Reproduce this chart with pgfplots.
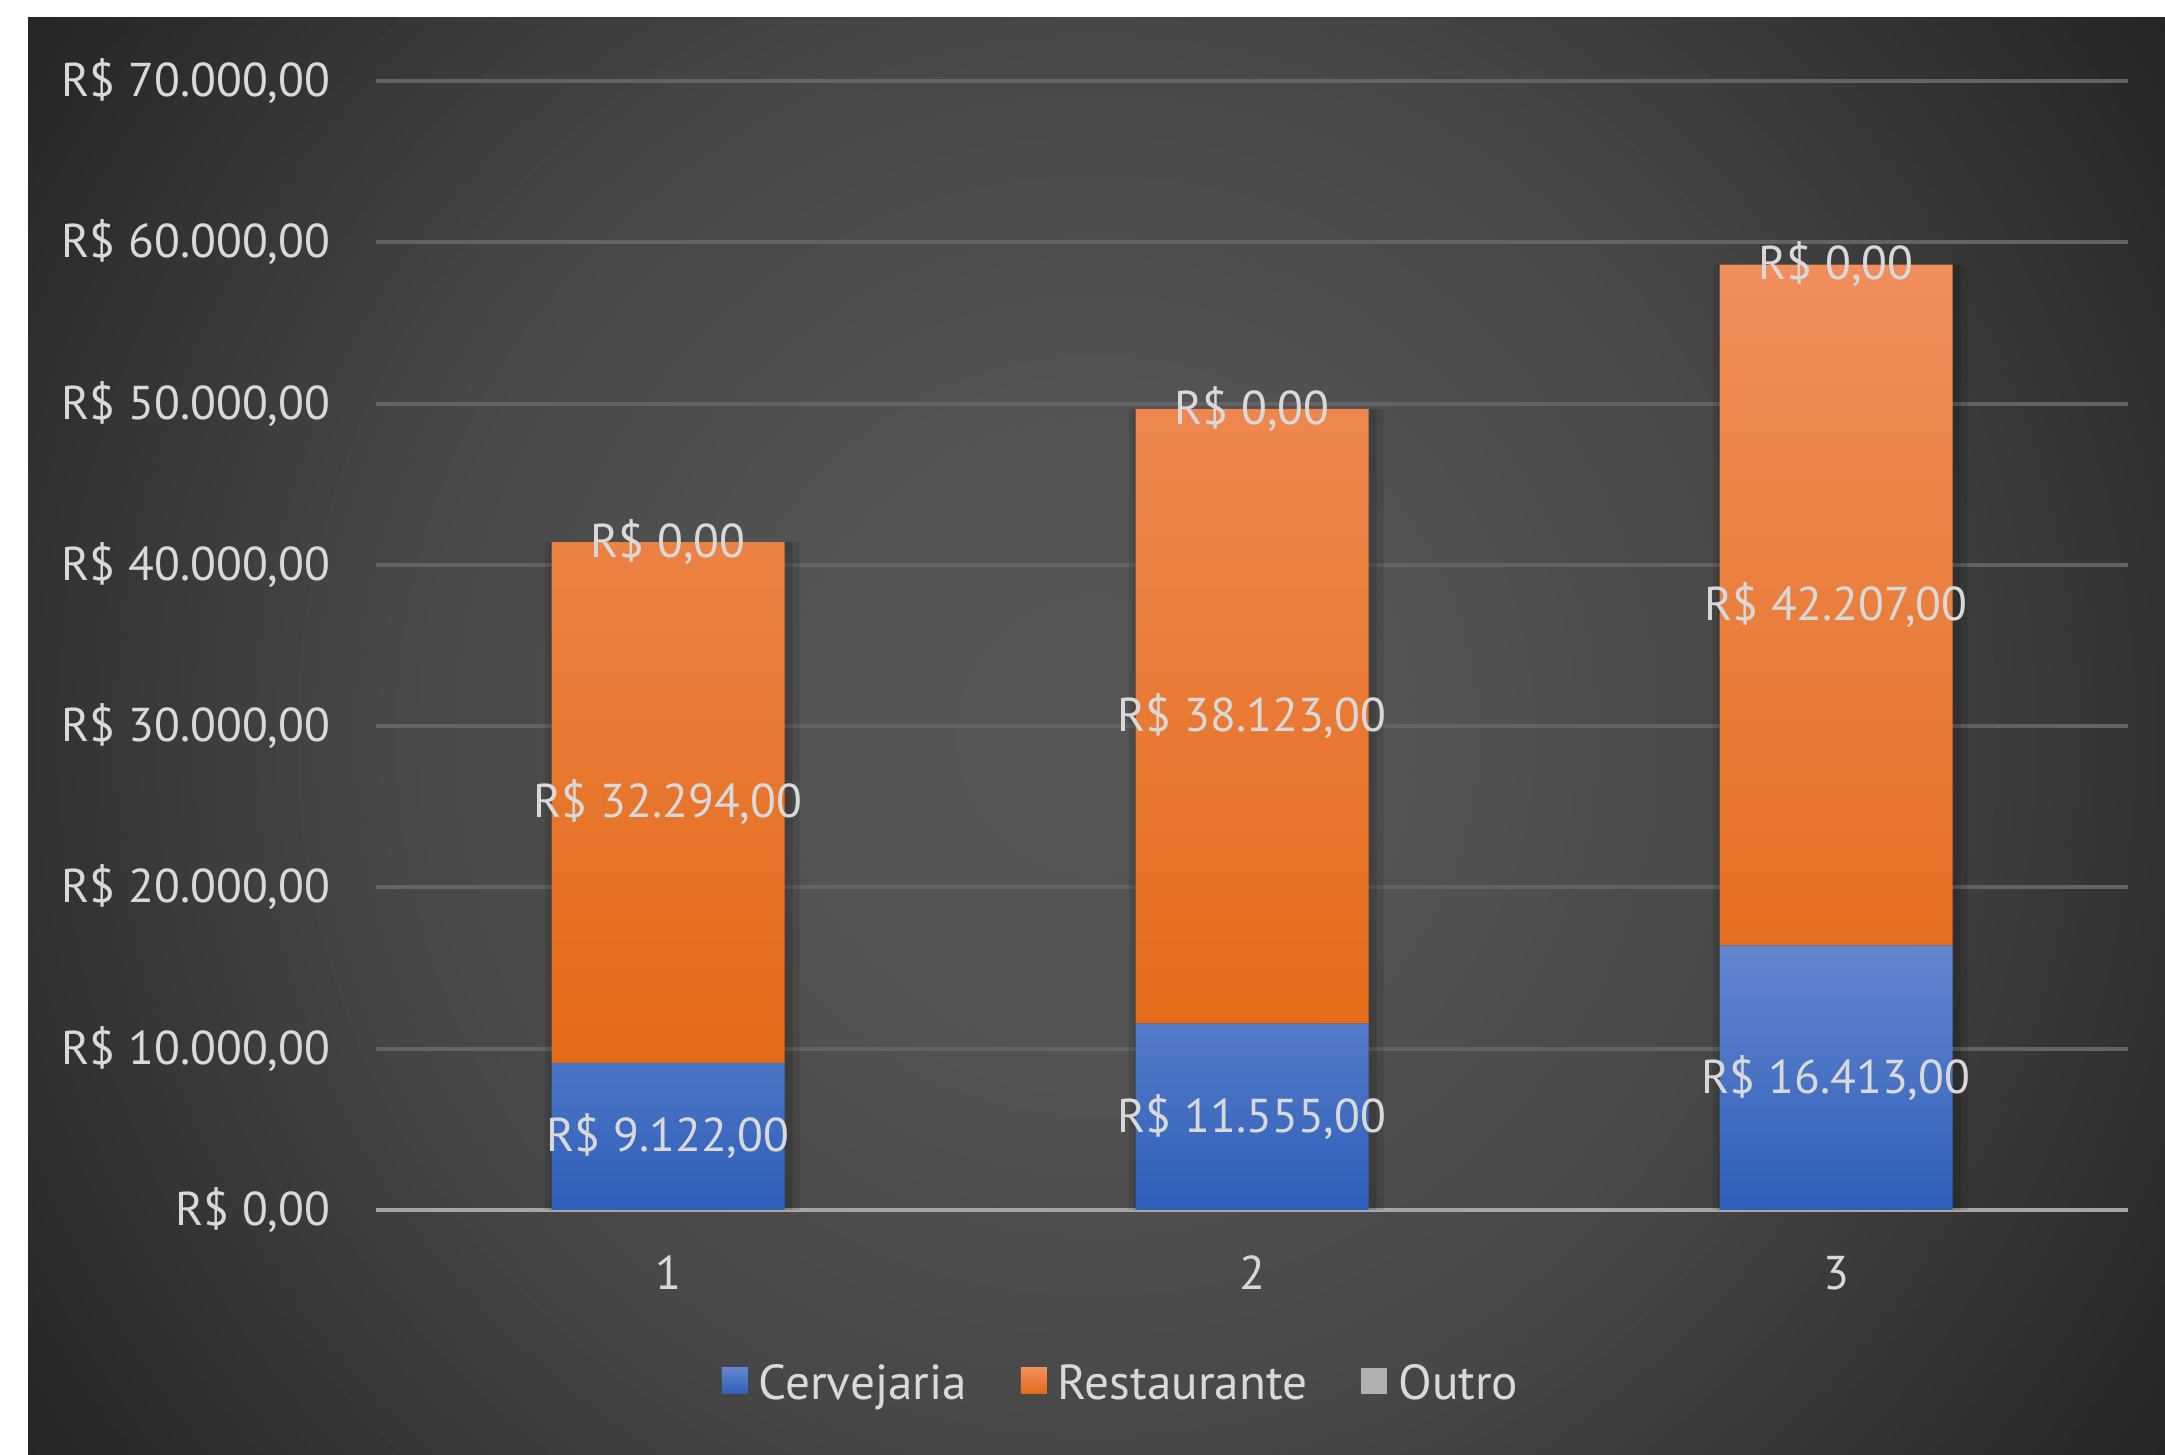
\documentclass[border=0pt]{standalone}
\usepackage{pgfplots}
\usepackage{pgfplotstable}
\pgfplotsset{compat=1.18}
\usepackage{fontspec}
\setmainfont{PT Sans}
\definecolor{txt}{HTML}{D9D9D9}
\definecolor{blueT}{HTML}{6486CF}
\definecolor{blueB}{HTML}{2E5FB9}
\definecolor{orT}{HTML}{F08E5C}
\definecolor{orB}{HTML}{E36A16}
\definecolor{grayT}{HTML}{B0B0B0}
\definecolor{gridc}{HTML}{636363}
\definecolor{axisc}{HTML}{A6A6A6}

\pgfplotstableread{
x cerv rest outro
1 9122 32294 0
2 11555 38123 0
3 16413 42207 0
}\data

\newcommand{\lblfont}{\fontsize{13.5}{16}\selectfont}
\newcommand{\legfont}{\fontsize{14}{17}\selectfont}
\newcommand{\brl}[1]{R\$ \pgfmathprintnumber[fixed,fixed zerofill,precision=2,use comma,1000 sep={.}]{#1}}

\pgfplotsset{base/.style={
  at={(3.76cm,2.45cm)}, anchor=south west,
  scale only axis, width=17.52cm, height=11.29cm,
  xmin=0.5, xmax=3.5, ymin=0, ymax=70000,
  /pgf/number format/assume math mode=true,
}}

\begin{document}
\begin{tikzpicture}[x=1cm,y=1cm]
\useasboundingbox (0,0) rectangle (21.65,14.55);
\fill[white] (0,0) rectangle (21.65,14.55);
\begin{scope}
\clip (0.28,0) rectangle (21.65,14.37);
\foreach \r in {1300,1280,...,20} {
  \pgfmathtruncatemacro\v{\r<300 ? 87-2*\r/300 : (\r<576 ? 85-9*(\r-300)/276 : (\r<718 ? 76-4*(\r-576)/142 : (\r<1068 ? 72-21*(\r-718)/350 : 51-13*(\r-1068)/219)))}
  \definecolor{bgtmp}{RGB}{\v,\v,\v}
  \fill[bgtmp] (10.965,7.19) circle[radius=\r/100];
}
\end{scope}

% axis 1: grid, tick labels, shadows
\begin{axis}[base, ybar, 
  axis line style={draw=none}, major tick length=0pt,
  ytick={0,10000,20000,30000,40000,50000,60000,70000},
  scaled y ticks=false,
  yticklabel={\brl{\tick}},
  yticklabel style={anchor=east, inner sep=0pt, xshift=-4.5mm, text=txt, font=\lblfont},
  xtick={1,2,3}, xticklabels={1,2,3},
  xticklabel style={anchor=base, inner sep=0pt, yshift=-8.0mm, text=txt, font=\lblfont},
  ymajorgrids, grid style={gridc, line width=1.1pt},
  extra y ticks={0}, extra y tick labels={},
  extra y tick style={grid style={axisc, line width=1.4pt}},
  bar width=2.55cm,
]
\addplot[fill=black, draw=none, opacity=0.10, bar shift=0.04cm] table[x=x, y expr=\thisrow{cerv}+\thisrow{rest}]{\data};
\addplot[fill=black, draw=none, opacity=0.12, bar shift=0.03cm, bar width=2.43cm] table[x=x, y expr=\thisrow{cerv}+\thisrow{rest}]{\data};
\end{axis}

% axis 2: bars + legend
\begin{axis}[base, ybar stacked, bar width=2.33cm,
  hide axis,
  legend style={at={(0.4247,-0.155)}, anchor=center, draw=none, fill=none,
    text=txt, font=\legfont, legend columns=-1,
    /tikz/every odd column/.append style={column sep=1.1mm},
    /tikz/every even column/.append style={column sep=5.4mm},
    nodes={inner sep=0pt}},
  legend image code/.code={\path[#1] (0cm,-0.9mm) rectangle (2.6mm,1.7mm);},
]
\addplot[draw=none, top color=blueT, bottom color=blueB] table[x=x, y=cerv]{\data};
\addlegendentry{Cervejaria}
\addplot[draw=none, top color=orT, bottom color=orB] table[x=x, y=rest]{\data};
\addlegendentry{Restaurante}
\addplot[draw=none, fill=grayT] table[x=x, y=outro]{\data};
\addlegendentry{Outro}
\end{axis}

% axis 3: data labels
\begin{axis}[base, hide axis,
  point meta=explicit,
  nodes near coords={\brl{\pgfplotspointmeta}},
  every node near coord/.append style={anchor=center, text=txt, font=\lblfont, inner sep=0pt},
]
\addplot[draw=none, mark=none] table[x=x, y expr=\thisrow{cerv}/2, meta=cerv]{\data};
\addplot[draw=none, mark=none] table[x=x, y expr=\thisrow{cerv}+\thisrow{rest}/2, meta=rest]{\data};
\addplot[draw=none, mark=none] table[x=x, y expr=\thisrow{cerv}+\thisrow{rest}+\thisrow{outro}/2, meta=outro]{\data};
\end{axis}
\end{tikzpicture}
\end{document}
